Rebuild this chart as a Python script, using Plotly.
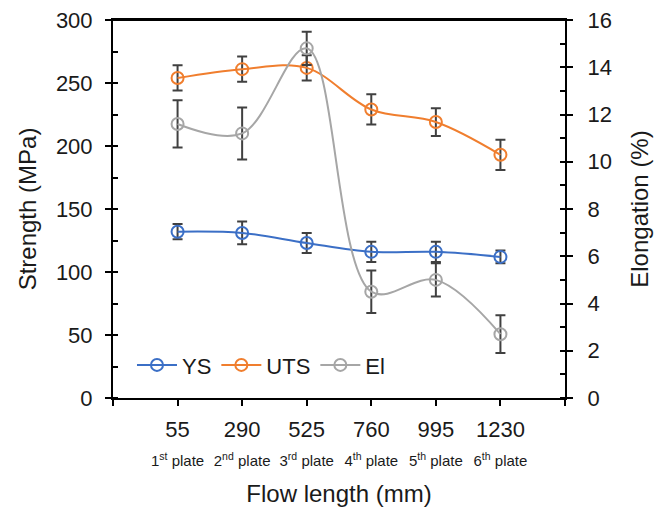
import plotly.graph_objects as go

positions = [1, 2, 3, 4, 5, 6]
flow_length = ["55", "290", "525", "760", "995", "1230"]
plate_ord = ["st", "nd", "rd", "th", "th", "th"]
plate_num = ["1", "2", "3", "4", "5", "6"]

ys = [132, 131, 123, 116, 116, 112]
ys_err = [6, 9, 8, 8, 8, 5]
uts = [254, 261, 262, 229, 219, 193]
uts_err = [10, 10, 10, 12, 11, 12]
el = [11.6, 11.2, 14.8, 4.5, 5.0, 2.7]
el_err = [1.0, 1.1, 0.7, 0.9, 0.7, 0.8]

FONT = "Liberation Sans, Arial, sans-serif"
TXT = "#1a1a1a"
ERR = dict(type="data", thickness=2, width=5, color="#404040")

ticktext = [f"{f}<br><span style='font-size:15px'>{n}<sup>{o}</sup> plate</span>"
            for f, n, o in zip(flow_length, plate_num, plate_ord)]

fig = go.Figure()
def add(name, y, err, color, yaxis):
    fig.add_trace(go.Scatter(
        x=positions, y=y, name=name, yaxis=yaxis,
        mode="lines+markers",
        line=dict(color=color, width=2, shape="spline", smoothing=1),
        marker=dict(symbol="circle-open", size=12, color=color, line=dict(width=2, color=color)),
        error_y=dict(array=err, **ERR),
    ))

add("YS", ys, ys_err, "#3B6FC6", "y")
add("UTS", uts, uts_err, "#F07E2E", "y")
add("El", el, el_err, "#A6A6A6", "y2")

axis_common = dict(showline=True, linecolor="black", linewidth=2, zeroline=False,
                   showgrid=False, tickfont=dict(size=22, color=TXT), automargin=False,
                   ticklabeloverflow="allow",
                   ticks="outside", ticklen=6, tickwidth=1.5, tickcolor="black")

# page body has an 8px default margin; figure sized to fit the 664x515 window
fig.update_layout(
    width=648, height=499,
    margin=dict(l=105, r=91, t=12, b=109),
    paper_bgcolor="white", plot_bgcolor="white",
    font=dict(family=FONT, color=TXT),
    showlegend=True,
    legend=dict(orientation="h", x=0.042, y=0.087, xanchor="left", yanchor="middle",
                font=dict(size=22, color=TXT), bgcolor="rgba(0,0,0,0)",
                itemwidth=40),
    xaxis=dict(
        range=[0, 7], tickmode="array", tickvals=positions, ticktext=ticktext,
        showline=True, linecolor="black", linewidth=2, zeroline=False, showgrid=False,
        tickfont=dict(size=22, color=TXT), ticks="outside", ticklen=6, tickwidth=1.5,
        tickcolor="black", mirror=True, automargin=False, ticklabelstandoff=5,
        ticklabeloverflow="allow",
        minor=dict(tickmode="linear", tick0=0, dtick=1, ticks="outside", ticklen=6,
                   tickwidth=1.5, tickcolor="black"),
        title=dict(text="Flow length (mm)", font=dict(size=24, color=TXT), standoff=18),
    ),
    yaxis=dict(
        range=[0, 300], dtick=50, **axis_common, ticklabelstandoff=8,
        minor=dict(dtick=25, ticks="inside", ticklen=5, tickwidth=1.5, tickcolor="black"),
        title=dict(text="Strength (MPa)", font=dict(size=24, color=TXT), standoff=12),
    ),
    yaxis2=dict(
        range=[0, 16], dtick=2, overlaying="y", side="right", **axis_common,
        ticklabelstandoff=10,
        minor=dict(dtick=1, ticks="inside", ticklen=5, tickwidth=1.5, tickcolor="black"),
        title=dict(text="Elongation (%)", font=dict(size=24, color=TXT), standoff=20),
    ),
    shapes=[dict(type="line", xref="paper", yref="paper", x0=0, x1=1, y0=1, y1=1,
                 line=dict(color="black", width=2))],
)

fig.write_html("out.html")
